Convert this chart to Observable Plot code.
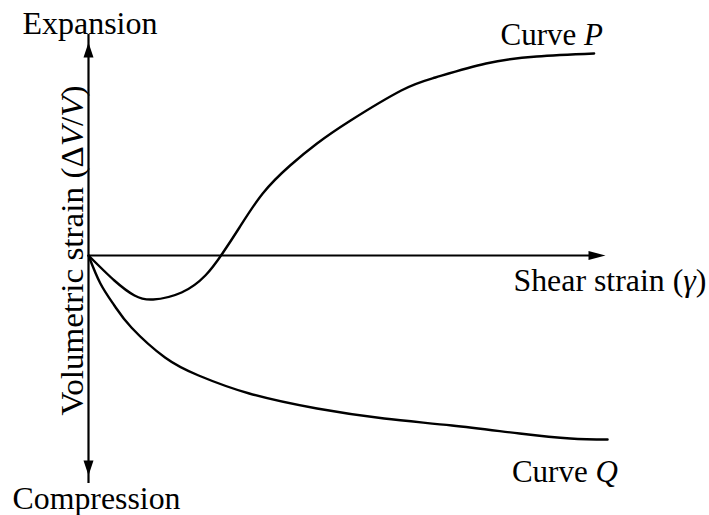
<!DOCTYPE html>
<html>
<head>
<meta charset="utf-8">
<script src="https://cdn.jsdelivr.net/npm/d3@7"></script>
<script src="https://cdn.jsdelivr.net/npm/@observablehq/plot@0.6"></script>
<style>
  html, body { margin: 0; padding: 0; background: #fff; }
  #chart { width: 709px; height: 515px; }
</style>
</head>
<body>
<div id="chart"></div>
<script>
// Curve P (dilative): shear strain vs volumetric strain (arbitrary units)
const curvePX = [0, 0.50, 0.89, 1.25, 1.80, 2.26, 2.59, 2.92, 3.37, 3.90, 4.42, 5.07, 6.05, 6.71, 7.69, 8.67, 9.78];
const curvePY = [0, -0.25, -0.40, -0.44, -0.37, -0.20, 0.02, 0.28, 0.62, 0.90, 1.12, 1.35, 1.65, 1.78, 1.92, 1.99, 2.02];
// Curve Q (contractive)
const curveQX = [0, 0.23, 0.50, 0.83, 1.48, 2.13, 3.11, 4.42, 5.72, 7.03, 8.34, 9.32, 10.04];
const curveQY = [0, -0.28, -0.50, -0.72, -1.02, -1.20, -1.38, -1.53, -1.63, -1.70, -1.78, -1.83, -1.84];
// Axis extents (arrow tips)
const axisX = [0, 10];
const axisY = [-2.2, 2.13];
// Text labels
const labelText = ["Expansion", "Compression", "Curve P", "Curve Q", "Shear strain (γ)"];
const labelX = [-1.277, -1.47, 7.97, 8.19, 8.22];
const labelY = [2.22, -2.53, 2.11, -2.26, -0.35];
const yAxisLabel = "Volumetric strain (ΔV/V)";

const curveP = curvePX.map((x, i) => ({x, y: curvePY[i]}));
const curveQ = curveQX.map((x, i) => ({x, y: curveQY[i]}));
const labels = labelText.map((t, i) => ({t, x: labelX[i], y: labelY[i]}));

const arrowV = { draw(ctx) { ctx.moveTo(0, 0); ctx.lineTo(-5, 15); ctx.lineTo(5, 15); ctx.closePath(); } };
const arrowH = { draw(ctx) { ctx.moveTo(0, 0); ctx.lineTo(-4.5, 17); ctx.lineTo(4.5, 17); ctx.closePath(); } };

const chart = Plot.plot({
  width: 709,
  height: 515,
  marginLeft: 88,
  marginRight: 104,
  marginTop: 42,
  marginBottom: 40,
  x: {domain: axisX, axis: null},
  y: {domain: axisY, axis: null},
  style: {fontFamily: "Liberation Serif", fontSize: "31px", background: "white", overflow: "visible", color: "black"},
  marks: [
    Plot.ruleX([axisX[0]], {y1: axisY[0], y2: axisY[1], stroke: "black", strokeWidth: 2.2, insetTop: 8, insetBottom: 8}),
    Plot.ruleY([0], {x1: axisX[0], x2: axisX[1], stroke: "black", strokeWidth: 2.2, insetRight: 8}),
    Plot.dot([{x: axisX[0], y: axisY[1]}], {x: "x", y: "y", symbol: arrowV, fill: "black", stroke: null, rotate: 0}),
    Plot.dot([{x: axisX[0], y: axisY[0]}], {x: "x", y: "y", symbol: arrowV, fill: "black", stroke: null, rotate: 180}),
    Plot.dot([{x: axisX[1], y: 0}], {x: "x", y: "y", symbol: arrowH, fill: "black", stroke: null, rotate: 90}),
    Plot.line(curveP, {x: "x", y: "y", curve: "natural", stroke: "black", strokeWidth: 2.4}),
    Plot.line(curveQ, {x: "x", y: "y", curve: "natural", stroke: "black", strokeWidth: 2.4}),
    Plot.text(labels, {x: "x", y: "y", text: "t", textAnchor: "start", lineAnchor: "bottom", fill: "black"}),
    Plot.text([yAxisLabel], {x: -0.116, y: 0.05, text: d => d, rotate: -90, textAnchor: "middle", lineAnchor: "bottom", fill: "black"})
  ]
});
document.getElementById("chart").appendChild(chart);

// Rich text: italics and fitted widths
const rich = {
  "Curve P": ['Curve <tspan font-style="italic">P</tspan>', 0],
  "Curve Q": ['Curve <tspan font-style="italic">Q</tspan>', 0],
  "Shear strain (γ)": ['Shear strain (<tspan font-style="italic">γ</tspan>)', 193],
  "Expansion": ['Expansion', 135],
  "Compression": ['Compression', 168],
  "Volumetric strain (ΔV/V)": ['Volumetric strain (Δ<tspan font-style="italic">V</tspan>/<tspan font-style="italic">V</tspan>)', 330]
};
chart.querySelectorAll("text").forEach(el => {
  const key = el.textContent;
  if (rich[key]) {
    el.innerHTML = rich[key][0];
    el.setAttribute("font-family", "Liberation Serif");
    if (rich[key][1]) {
      el.setAttribute("textLength", rich[key][1]);
      el.setAttribute("lengthAdjust", "spacingAndGlyphs");
    }
  }
});
</script>
</body>
</html>
